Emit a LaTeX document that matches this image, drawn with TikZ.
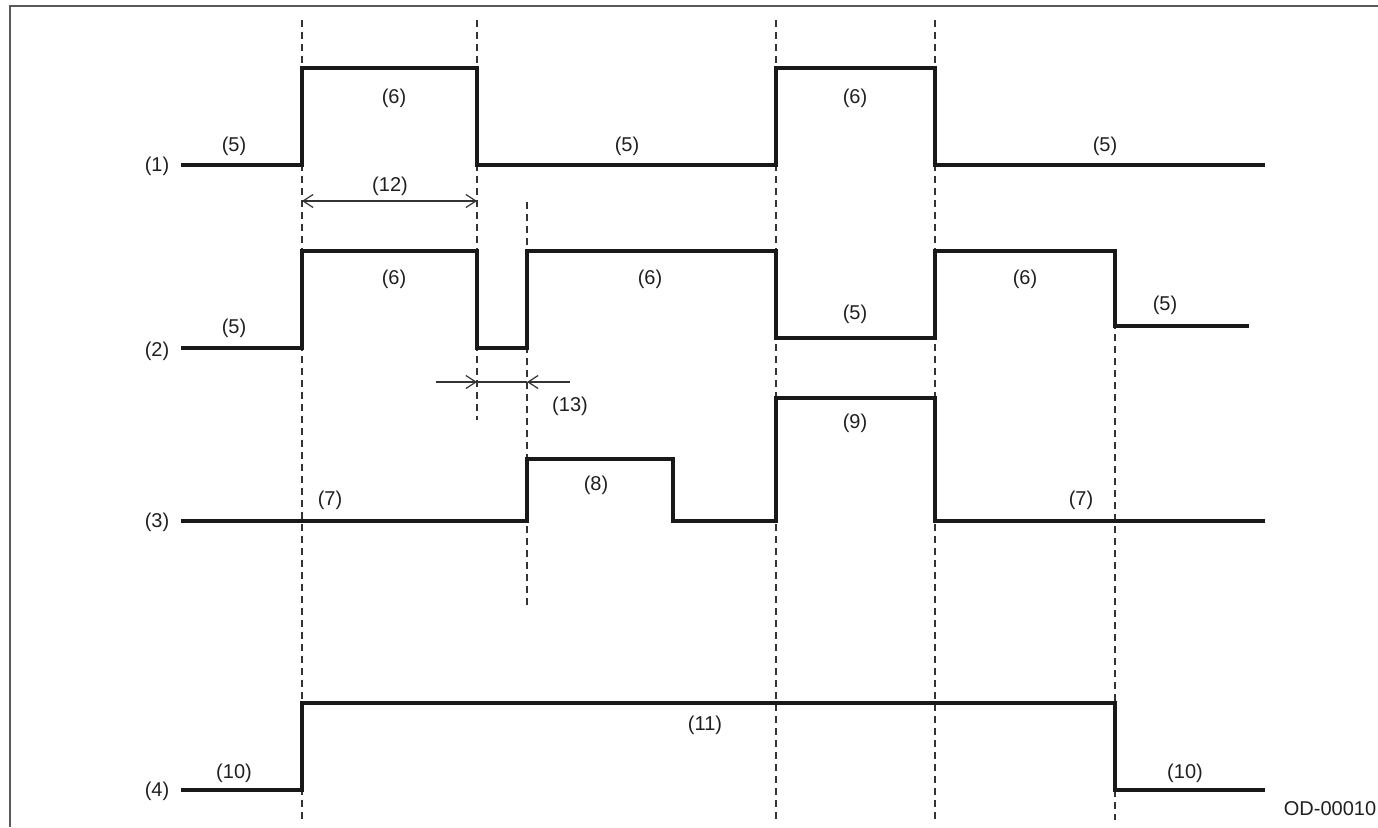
\documentclass[tikz,border=0pt]{standalone}
\usepackage{fontspec}
\setmainfont{Liberation Sans}
\usetikzlibrary{arrows.meta}
\tikzset{
  sig/.style={line width=3.1pt, black!90, line join=miter},
  guide/.style={line width=1.4pt, black!80, dash pattern=on 7pt off 5pt},
  frameln/.style={line width=2.2pt, black!65},
  dim/.style={line width=1.2pt, black!80},
  tipv/.style={-{Straight Barb[length=10pt,width=13pt,line width=1.2pt]}},
  lbl/.style={font=\fontsize{20}{24}\selectfont, text=black!88, inner sep=0pt},
}
\begin{document}
\begin{tikzpicture}[x=1pt,y=-1pt]
\useasboundingbox (0,0) rectangle (1378,827);
% frame
\draw[frameln] (10,827) -- (10,6) -- (1378,6);
% guide lines
\draw[guide] (302,20) -- (302,820);
\draw[guide] (477,20) -- (477,420);
\draw[guide] (527,202) -- (527,608);
\draw[guide] (776,20) -- (776,820);
\draw[guide] (935,20) -- (935,820);
\draw[guide] (1115,250) -- (1115,820);
% signal 1
\draw[sig] (181,165) -- (302,165) -- (302,68) -- (477,68) -- (477,165) -- (776,165) -- (776,68) -- (935,68) -- (935,165) -- (1265,165);
% signal 2
\draw[sig] (181,348) -- (302,348) -- (302,251) -- (477,251) -- (477,348) -- (527,348) -- (527,251) -- (776,251) -- (776,338) -- (935,338) -- (935,251) -- (1115,251) -- (1115,326) -- (1249,326);
% signal 3
\draw[sig] (181,521) -- (527,521) -- (527,459) -- (673,459) -- (673,521) -- (776,521) -- (776,398) -- (935,398) -- (935,521) -- (1265,521);
% signal 4
\draw[sig] (181,790) -- (302,790) -- (302,703) -- (1115,703) -- (1115,790) -- (1265,790);
% dimension (12)
\coordinate (d12a) at (302,201);
\coordinate (d12b) at (477,201);
\draw[dim, {Straight Barb[length=10pt,width=13pt,line width=1.2pt]}-{Straight Barb[length=10pt,width=13pt,line width=1.2pt]}] (d12a) -- (d12b);
% dimension (13)
\coordinate (d13l) at (436,382);
\coordinate (d13a) at (477,382);
\coordinate (d13b) at (527,382);
\coordinate (d13r) at (570,382);
\draw[dim] (d13a) -- (d13b);
\draw[dim, tipv] (d13l) -- (d13a);
\draw[dim, tipv] (d13r) -- (d13b);
% labels
\node[lbl] (n1) at (157,166) {(1)};
\node[lbl] (n2) at (157,351) {(2)};
\node[lbl] (n3) at (157,522) {(3)};
\node[lbl] (n4) at (157,791) {(4)};
\node[lbl] (a5) at (234,146) {(5)};
\node[lbl] (a6) at (394,98) {(6)};
\node[lbl] (b5) at (627,146) {(5)};
\node[lbl] (b6) at (855,98) {(6)};
\node[lbl] (c5) at (1105,146) {(5)};
\node[lbl] (l12) at (390,186) {(12)};
\node[lbl] (e5) at (234,328) {(5)};
\node[lbl] (e6) at (394,279) {(6)};
\node[lbl] (f6) at (650,279) {(6)};
\node[lbl] (g5) at (855,314) {(5)};
\node[lbl] (h6) at (1025,279) {(6)};
\node[lbl] (i5) at (1165,305) {(5)};
\node[lbl] (l13) at (570,406) {(13)};
\node[lbl] (j7) at (330,500) {(7)};
\node[lbl] (k8) at (596,485) {(8)};
\node[lbl] (m9) at (855,423) {(9)};
\node[lbl] (o7) at (1081,500) {(7)};
\node[lbl] (p10) at (234,773) {(10)};
\node[lbl] (q11) at (705,725) {(11)};
\node[lbl] (r10) at (1185,773) {(10)};
\node[lbl] (od) at (1330,809) {OD-00010};
\end{tikzpicture}
\end{document}
